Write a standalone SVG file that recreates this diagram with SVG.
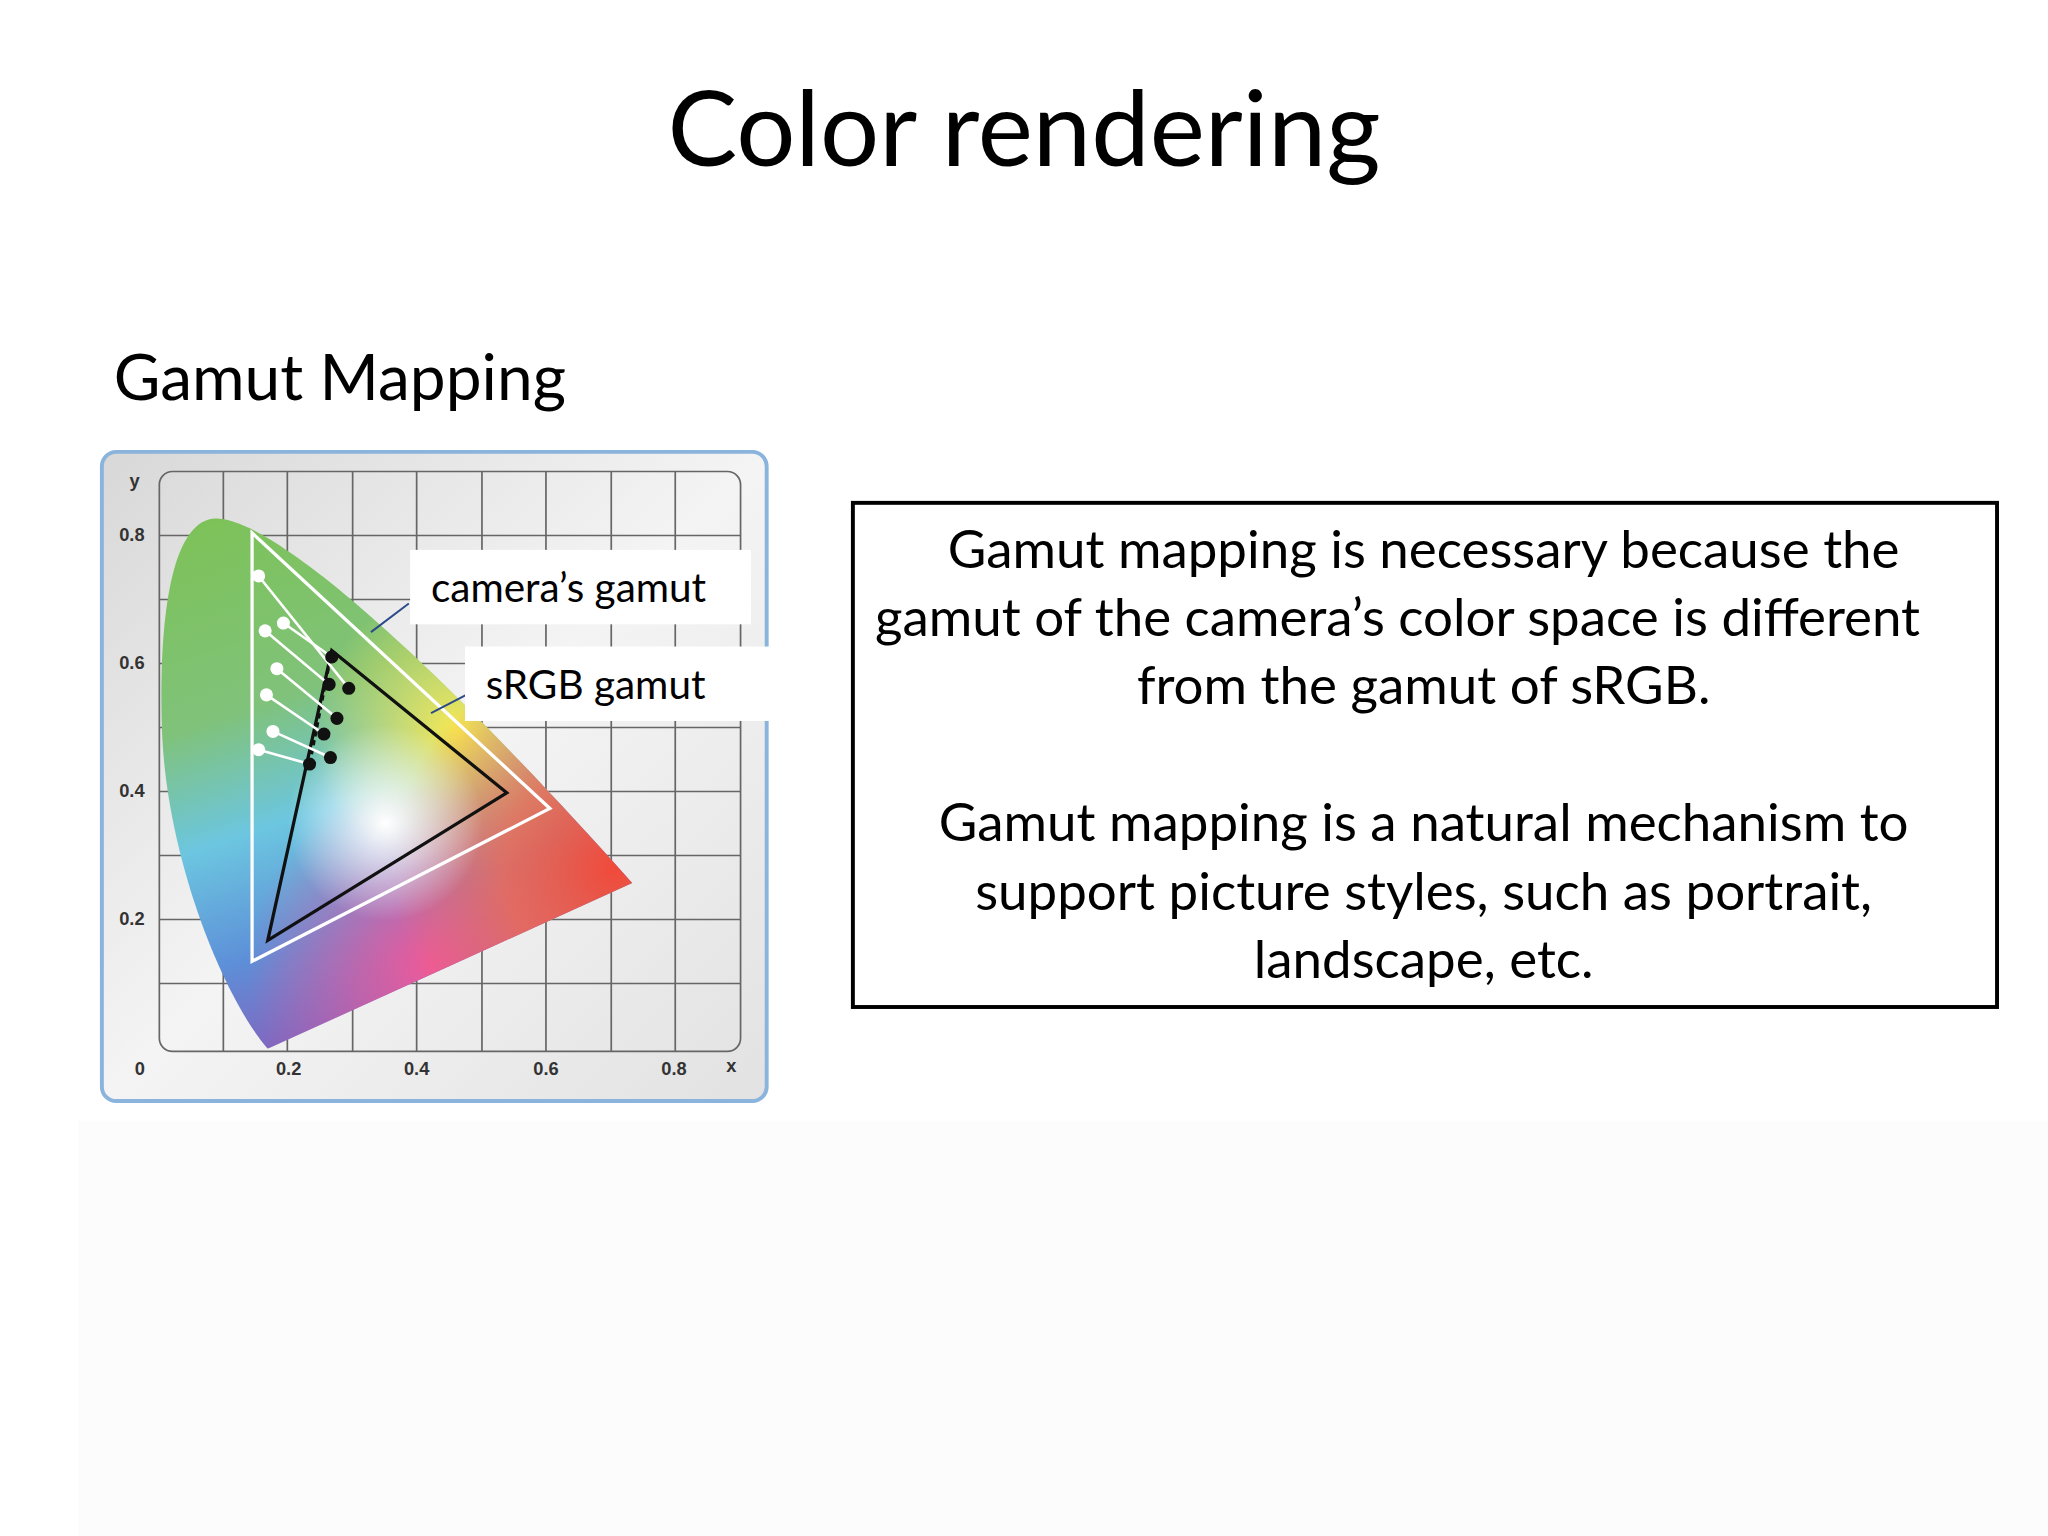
<svg xmlns="http://www.w3.org/2000/svg" width="2048" height="1536" viewBox="0 0 2048 1536">
<style>
.ax{font-family:"Liberation Sans",Arial,sans-serif;font-weight:bold;font-size:14px;fill:#333;text-anchor:middle}
.t{font-family:Lato,"Open Sans",sans-serif;fill:#000}
.body{font-family:Lato,"Open Sans",sans-serif;font-size:40.5px;fill:#000;text-anchor:middle}
.grid{stroke:#666;stroke-width:1.3;fill:none}
.wl{stroke:#fff;stroke-width:2}
</style>
<defs>
<linearGradient id="bg" x1="0" y1="0" x2="1" y2="1"><stop offset="0" stop-color="#d8d8d8"/><stop offset="0.5" stop-color="#f4f4f4"/><stop offset="1" stop-color="#e2e2e2"/></linearGradient>
<linearGradient id="base" x1="0" y1="0" x2="0.3" y2="1"><stop offset="0" stop-color="#7cc250"/><stop offset="0.4" stop-color="#80c27a"/><stop offset="0.6" stop-color="#6cc6e0"/><stop offset="0.8" stop-color="#5d8fd8"/><stop offset="1" stop-color="#8a5cb8"/></linearGradient>
<radialGradient id="red" cx="470" cy="665" r="170" gradientUnits="userSpaceOnUse"><stop offset="0" stop-color="#f04a3a"/><stop offset="0.5" stop-color="#f06a50" stop-opacity="0.8"/><stop offset="1" stop-color="#f06a50" stop-opacity="0"/></radialGradient>
<radialGradient id="mag" cx="330" cy="740" r="140" gradientUnits="userSpaceOnUse"><stop offset="0" stop-color="#ee5a9a"/><stop offset="1" stop-color="#ee5a9a" stop-opacity="0"/></radialGradient>
<radialGradient id="yel" cx="350" cy="560" r="110" gradientUnits="userSpaceOnUse"><stop offset="0" stop-color="#f8e850"/><stop offset="1" stop-color="#f8e850" stop-opacity="0"/></radialGradient>
<radialGradient id="wh" cx="295" cy="630" r="75" gradientUnits="userSpaceOnUse"><stop offset="0" stop-color="#fff"/><stop offset="1" stop-color="#fff" stop-opacity="0"/></radialGradient>
<clipPath id="hs"><path d="M205,803 C172,765 128,660 124,560 C121,470 132,398 165,397 C200,396 300,470 484,676 Z"/></clipPath>
</defs>
<rect width="2048" height="1536" fill="#fff"/>
<g transform="scale(1.3061)">
<rect x="60" y="858" width="1508" height="318" fill="#fcfcfc"/>
<text class="t" x="784" y="127" font-size="80" text-anchor="middle">Color rendering</text>
<text class="t" x="87" y="306" font-size="49">Gamut Mapping</text>
<g id="chart">
<rect x="78" y="346" width="509" height="497" rx="11" fill="url(#bg)" stroke="#8ab4dc" stroke-width="3"/>
<rect x="122" y="361" width="445" height="444" rx="10" class="grid"/>
<path class="grid" d="M171,361V805M220,361V805M270,361V805M319,361V805M369,361V805M418,361V805M468,361V805M517,361V805M122,410H567M122,459H567M122,508H567M122,557H567M122,606H567M122,655H567M122,704H567M122,753H567"/>
<g clip-path="url(#hs)">
<rect x="100" y="380" width="400" height="440" fill="url(#base)"/>
<rect x="100" y="380" width="400" height="440" fill="url(#yel)"/>
<rect x="100" y="380" width="400" height="440" fill="url(#mag)"/>
<rect x="100" y="380" width="400" height="440" fill="url(#red)"/>
<rect x="100" y="380" width="400" height="440" fill="url(#wh)"/>
</g>
<polygon points="193,408 193,736 421,619" fill="none" stroke="#fff" stroke-width="2.5"/>
<polygon points="254,498 388,607 205,720" fill="none" stroke="#111" stroke-width="2.5"/>
<path d="M254,498 L237,585" stroke="#111" stroke-width="2.5" stroke-dasharray="4,3"/>
<g class="wl">
<line x1="198" y1="441" x2="267" y2="527"/><line x1="217" y1="477" x2="254" y2="503"/><line x1="203" y1="483" x2="252" y2="524"/><line x1="212" y1="512" x2="258" y2="550"/><line x1="204" y1="532" x2="248" y2="562"/><line x1="209" y1="560" x2="253" y2="580"/><line x1="198" y1="574" x2="237" y2="585"/>
</g>
<g fill="#fff"><circle cx="198" cy="441" r="5"/><circle cx="217" cy="477" r="5"/><circle cx="203" cy="483" r="5"/><circle cx="212" cy="512" r="5"/><circle cx="204" cy="532" r="5"/><circle cx="209" cy="560" r="5"/><circle cx="198" cy="574" r="5"/></g>
<g fill="#111"><circle cx="254" cy="503" r="5"/><circle cx="252" cy="524" r="5"/><circle cx="267" cy="527" r="5"/><circle cx="258" cy="550" r="5"/><circle cx="248" cy="562" r="5"/><circle cx="253" cy="580" r="5"/><circle cx="237" cy="585" r="5"/></g>
<text class="ax" x="103" y="373">y</text><text class="ax" x="101" y="414">0.8</text><text class="ax" x="101" y="512">0.6</text><text class="ax" x="101" y="610">0.4</text><text class="ax" x="101" y="708">0.2</text>
<text class="ax" x="107" y="823">0</text><text class="ax" x="221" y="823">0.2</text><text class="ax" x="319" y="823">0.4</text><text class="ax" x="418" y="823">0.6</text><text class="ax" x="516" y="823">0.8</text><text class="ax" x="560" y="821">x</text>
</g>
<g id="labels">
<line x1="313" y1="462" x2="284" y2="484" stroke="#2a4a8a" stroke-width="1.5"/>
<line x1="357" y1="532" x2="330" y2="546" stroke="#2a4a8a" stroke-width="1.5"/>
<g id="cam"><rect x="314" y="421" width="261" height="57" fill="#fff"/><text class="t" x="330" y="461" font-size="31">camera’s gamut</text></g>
<g id="srgb"><rect x="356" y="495" width="234" height="57" fill="#fff"/><text class="t" x="372" y="535" font-size="31">sRGB gamut</text></g>
</g>
<g id="box">
<rect x="653" y="385" width="876" height="386" fill="#fff" stroke="#000" stroke-width="3"/>
<text class="body" x="1090" y="435">Gamut mapping is necessary because the</text>
<text class="body" x="1070" y="487">gamut of the camera’s color space is different</text>
<text class="body" x="1090" y="539">from the gamut of sRGB.</text>
<text class="body" x="1090" y="644">Gamut mapping is a natural mechanism to</text>
<text class="body" x="1090" y="697">support picture styles, such as portrait,</text>
<text class="body" x="1090" y="749">landscape, etc.</text>
</g>
</g>
</svg>
